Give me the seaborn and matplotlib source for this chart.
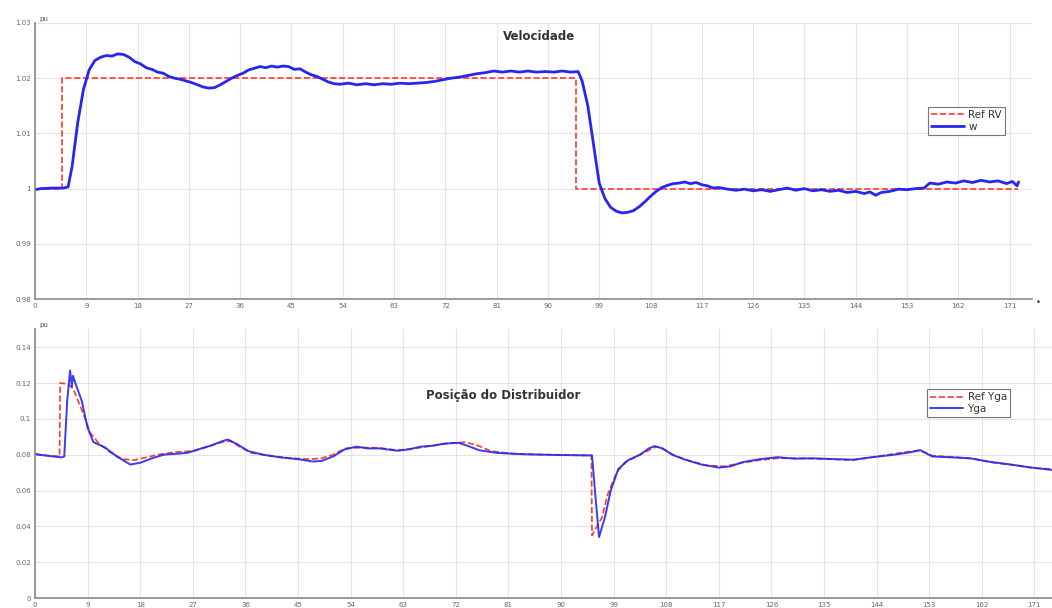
import matplotlib
matplotlib.use("Agg")
import matplotlib.pyplot as plt
import seaborn as sns
import numpy as np

# ---- data ----
x_ticks = [0, 9, 18, 27, 36, 45, 54, 63, 72, 81, 90, 99, 108, 117, 126, 135, 144, 153, 162, 171]

# Velocidade: reference
ref_rv_t = [0, 4.8, 4.8, 95.0, 95.0, 172.4]
ref_rv = [1.0, 1.0, 1.02, 1.02, 1.0, 1.0]

# Velocidade: measured w
w_t = [0, 1, 3, 5, 5.8, 6.5, 7.5, 8.5, 9.5, 10.5, 11.5, 12.5, 13.5, 14.5, 15.5, 16.5,
       17.5, 18.5, 19.5, 20.5, 21.5, 22.5, 23.5, 24.5, 25.5, 26.5, 27.5, 28.5, 29.5,
       30.5, 31.5, 32.5, 33.5, 34.5, 35.5, 36.5, 37.5, 38.5, 39.5, 40.5, 41.5, 42.5,
       43.5, 44.5, 45.5, 46.5, 47.5, 48.5, 49.5, 50.5, 51.5, 52.5, 53.5, 55, 56.5, 58,
       59.5, 61, 62.5, 64, 65.5, 67, 68.5, 70, 71.5, 73, 74.5, 76, 77.5, 79, 80.5, 82,
       83.5, 85, 86.5, 88, 89.5, 91, 92.5, 94, 95.3, 96, 97, 98, 99, 100, 101, 102, 103,
       104, 105, 106, 107, 108, 109, 110, 111, 112, 113, 114, 115, 116, 117, 118, 119,
       120, 121.5, 123, 124.5, 126, 127.5, 129, 130.5, 132, 133.5, 135, 136.5, 138,
       139.5, 141, 142.5, 144, 145.5, 146.5, 147.5, 148.5, 150, 151.5, 153, 154.5, 156,
       157, 158.5, 160, 161.5, 163, 164.5, 166, 167.5, 169, 170.5, 171.5, 172.3, 172.6]
w_val = [0.9998, 1.0000, 1.0001, 1.0001, 1.0003, 1.0040, 1.0120, 1.0180, 1.0215, 1.0232,
         1.0238, 1.0241, 1.0240, 1.0244, 1.0243, 1.0238, 1.0230, 1.0226, 1.0219, 1.0216,
         1.0211, 1.0209, 1.0203, 1.0200, 1.0198, 1.0195, 1.0192, 1.0188, 1.0184, 1.0182,
         1.0183, 1.0188, 1.0194, 1.0200, 1.0205, 1.0209, 1.0215, 1.0218, 1.0221, 1.0219,
         1.0222, 1.0220, 1.0222, 1.0221, 1.0216, 1.0217, 1.0211, 1.0206, 1.0203, 1.0198,
         1.0193, 1.0190, 1.0189, 1.0191, 1.0188, 1.0190, 1.0188, 1.0190, 1.0189, 1.0191,
         1.0190, 1.0191, 1.0192, 1.0194, 1.0197, 1.0200, 1.0202, 1.0205, 1.0208, 1.0210,
         1.0213, 1.0211, 1.0213, 1.0211, 1.0213, 1.0211, 1.0212, 1.0211, 1.0213, 1.0211,
         1.0212, 1.0195, 1.0150, 1.0080, 1.0010, 0.9982, 0.9966, 0.9959, 0.9956, 0.9957,
         0.9960, 0.9967, 0.9976, 0.9986, 0.9995, 1.0002, 1.0006, 1.0009, 1.0010, 1.0012,
         1.0009, 1.0011, 1.0007, 1.0005, 1.0001, 1.0002, 0.9999, 0.9997, 0.9999, 0.9996,
         0.9998, 0.9995, 0.9998, 1.0001, 0.9997, 1.0000, 0.9996, 0.9998, 0.9995, 0.9997,
         0.9993, 0.9995, 0.9991, 0.9994, 0.9988, 0.9993, 0.9995, 0.9999, 0.9998, 1.0000,
         1.0001, 1.0010, 1.0008, 1.0012, 1.0010, 1.0014, 1.0011, 1.0015, 1.0012, 1.0014,
         1.0009, 1.0013, 1.0005, 1.0012]

# Posicao do distribuidor: reference
ref_yga_t = [0, 2, 4.2, 4.3, 5.5, 6.5, 8, 9.5, 11, 13, 15, 17, 19, 21, 24, 27, 30, 32.5,
             33.5, 35, 37, 40, 44, 47, 49, 51, 53, 56, 59, 62, 65, 68, 71, 73.5, 75.5, 78,
             82, 88, 95.2, 95.3, 97, 98, 99.5, 101, 103, 105, 106.3, 107.5, 109.5, 112,
             115, 118, 121, 124, 127, 131, 136, 140, 144, 148, 151.3, 153.5, 158, 161, 164,
             168, 171, 174]
ref_yga = [0.0805, 0.0795, 0.0790, 0.1200, 0.1195, 0.1170, 0.1050, 0.0920, 0.0860, 0.0810,
           0.0775, 0.0770, 0.0785, 0.0800, 0.0815, 0.0820, 0.0850, 0.0875, 0.0875, 0.0845,
           0.0810, 0.0795, 0.0780, 0.0775, 0.0780, 0.0800, 0.0835, 0.0840, 0.0838, 0.0825,
           0.0835, 0.0850, 0.0865, 0.0870, 0.0855, 0.0820, 0.0805, 0.0800, 0.0795, 0.0350,
           0.0450, 0.0580, 0.0700, 0.0760, 0.0790, 0.0825, 0.0845, 0.0830, 0.0795, 0.0765,
           0.0740, 0.0735, 0.0755, 0.0770, 0.0780, 0.0780, 0.0775, 0.0770, 0.0790, 0.0810,
           0.0825, 0.0795, 0.0785, 0.0775, 0.0755, 0.0740, 0.0725, 0.0720]

# Posicao do distribuidor: measured
yga_t = [0, 2, 4.5, 5.0, 5.5, 6.0, 6.3, 6.5, 7, 8, 9, 10, 12, 14, 16.3, 18, 20, 22, 24, 26,
         28, 30, 32, 33, 34.5, 36.5, 39, 42, 45, 47.5, 49, 51, 53, 55, 57, 59, 62, 64, 66,
         68, 70, 72.5, 74, 76, 79, 84, 90, 95.3, 95.8, 96.5, 97.5, 98.5, 99.8, 101.5, 103.5,
         105, 106, 107.4, 109, 111, 114, 117, 119, 121, 124, 127, 130, 133, 137, 140, 143,
         147, 150, 151.5, 153.5, 157, 160, 163, 167, 170, 174]
yga = [0.0802, 0.0795, 0.0785, 0.0790, 0.1100, 0.1270, 0.1180, 0.1240, 0.1190, 0.1100,
       0.0950, 0.0870, 0.0840, 0.0790, 0.0745, 0.0755, 0.0780, 0.0800, 0.0805, 0.0810,
       0.0830, 0.0850, 0.0875, 0.0885, 0.0860, 0.0820, 0.0800, 0.0785, 0.0775, 0.0762,
       0.0765, 0.0790, 0.0830, 0.0845, 0.0835, 0.0835, 0.0822, 0.0830, 0.0845, 0.0850,
       0.0862, 0.0866, 0.0850, 0.0825, 0.0810, 0.0802, 0.0798, 0.0796, 0.0600, 0.0340,
       0.0450, 0.0600, 0.0720, 0.0770, 0.0800, 0.0835, 0.0848, 0.0835, 0.0800, 0.0775,
       0.0745, 0.0728, 0.0735, 0.0758, 0.0775, 0.0786, 0.0778, 0.0780, 0.0775, 0.0772,
       0.0785, 0.0800, 0.0815, 0.0825, 0.0790, 0.0785, 0.0780, 0.0762, 0.0745, 0.0730,
       0.0715]

top_yticks = [0.98, 0.99, 1.0, 1.01, 1.02, 1.03]
top_ylabels = ["0.98", "0.99", "1", "1.01", "1.02", "1.03"]
bot_yticks = [0, 0.02, 0.04, 0.06, 0.08, 0.1, 0.12, 0.14]
bot_ylabels = ["0", "0.02", "0.04", "0.06", "0.08", "0.1", "0.12", "0.14"]

# ---- drawing ----
sns.set_style("whitegrid")
plt.rcParams['font.family'] = ['DejaVu Sans']

fig = plt.figure(figsize=(10.52, 6.08), dpi=100)
ax1 = fig.add_axes([0.0333, 0.5082, 0.948, 0.454])
ax2 = fig.add_axes([0.0333, 0.0164, 0.9667, 0.442])

red = '#ff3a2a'
blue = '#2626ee'

sns.lineplot(x=ref_rv_t, y=ref_rv, ax=ax1, color=red, linestyle='--', linewidth=1.2,
             estimator=None, sort=False, label='Ref RV')
sns.lineplot(x=w_t, y=w_val, ax=ax1, color=blue, linewidth=2.0,
             estimator=None, sort=False, label='w')

sns.lineplot(x=ref_yga_t, y=ref_yga, ax=ax2, color=red, linestyle='--', linewidth=1.2,
             estimator=None, sort=False, label='Ref Yga')
sns.lineplot(x=yga_t, y=yga, ax=ax2, color=blue, linewidth=1.4, alpha=0.9,
             estimator=None, sort=False, label='Yga')

ax1.set_xlim(0, 175)
ax1.set_ylim(0.98, 1.03)
ax1.set_yticks(top_yticks)
ax1.set_yticklabels(top_ylabels)
ax2.set_xlim(0, 174)
ax2.set_ylim(0, 0.15)
ax2.set_yticks(bot_yticks)
ax2.set_yticklabels(bot_ylabels)

for ax in (ax1, ax2):
    ax.set_xticks(x_ticks)
    ax.set_xticklabels([str(v) for v in x_ticks])
    ax.grid(True, color='#e4e4e4', linewidth=0.8)
    ax.spines['top'].set_visible(False)
    ax.spines['right'].set_visible(False)
    ax.spines['left'].set_color('#8a8a8a')
    ax.spines['bottom'].set_color('#8a8a8a')
    ax.spines['left'].set_linewidth(1.2)
    ax.spines['bottom'].set_linewidth(1.2)
    ax.tick_params(direction='in', length=4, width=1, colors='#8a8a8a',
                   labelsize=5, labelcolor='#666666', pad=3)
    ax.set_xlabel('')
    ax.set_ylabel('')
    ax.text(0.004, 1.005, 'pu', transform=ax.transAxes, fontsize=5,
            color='#555555', ha='left', va='bottom')

ax1.text(0.505, 0.95, 'Velocidade', transform=ax1.transAxes, fontsize=8.5,
         fontweight='bold', color='#333333', ha='center', va='center')
ax2.text(0.46, 0.755, 'Posição do Distribuidor', transform=ax2.transAxes, fontsize=8.5,
         fontweight='bold', color='#333333', ha='center', va='center')
ax1.text(1.003, -0.012, '•', transform=ax1.transAxes, fontsize=6,
         color='#333333', ha='left', va='center')

leg1 = ax1.legend(loc='upper left', bbox_to_anchor=(0.895, 0.696), fontsize=7.5,
                  frameon=True, fancybox=False, borderpad=0.3, handlelength=3.2,
                  labelspacing=0.15, handletextpad=0.4, borderaxespad=0)
leg2 = ax2.legend(loc='upper left', bbox_to_anchor=(0.877, 0.777), fontsize=7.5,
                  frameon=True, fancybox=False, borderpad=0.3, handlelength=3.2,
                  labelspacing=0.15, handletextpad=0.4, borderaxespad=0)
for leg in (leg1, leg2):
    leg.get_frame().set_edgecolor('#555555')
    leg.get_frame().set_linewidth(0.8)
    for t in leg.get_texts():
        t.set_color('#333333')

fig.savefig('out.png', dpi=100)
